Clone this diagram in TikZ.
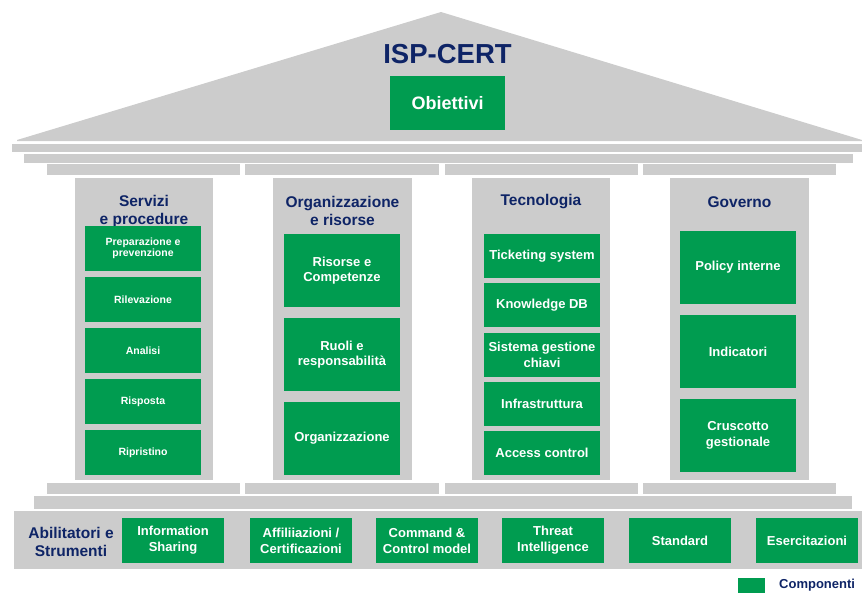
\documentclass[tikz,border=0pt]{standalone}
\usepackage{fontspec}
\setmainfont{Liberation Sans}
\definecolor{ispgreen}{RGB}{0,156,80}
\definecolor{ispgrey}{RGB}{204,204,204}
\definecolor{ispnavy}{RGB}{14,36,102}
\tikzset{
  gbox/.style={fill=ispgreen, draw=none, inner sep=0pt, align=center, text=white,
    font=\bfseries\fontsize{13}{15.7}\selectfont},
  smallbox/.style={gbox, minimum width=116pt, minimum height=45pt,
    font=\bfseries\fontsize{10.5}{11.5}\selectfont},
  midbox/.style={gbox, minimum width=116pt, minimum height=73pt},
  tecbox/.style={gbox, minimum width=116pt, minimum height=44pt},
  botbox/.style={gbox, minimum width=102pt, minimum height=45pt},
  coltitle/.style={text=ispnavy, align=center, inner sep=0pt,
    font=\bfseries\fontsize{15.5}{18}\selectfont},
  greyfill/.style={fill=ispgrey, draw=none}
}
\begin{document}
\begin{tikzpicture}[x=1pt,y=-1pt]
\useasboundingbox (0,0) rectangle (862,592);
% roof
\fill[ispgrey] (17,140) -- (441,12) -- (862,140) -- (862,141) -- (17,141) -- cycle;
% architraves
\fill[greyfill] (12,144) rectangle (862,152);
\fill[greyfill] (24,154) rectangle (853,163);
\foreach \a/\b in {47/240,245/439,445/638,643/836}{
  \fill[greyfill] (\a,164) rectangle (\b,175);
  \fill[greyfill] (\a,483) rectangle (\b,494);
}
% columns
\foreach \a/\b in {75/213,273/412,472/610,670/809}{
  \fill[greyfill] (\a,178) rectangle (\b,480);
}
% base
\fill[greyfill] (34,496) rectangle (852,509);
\fill[greyfill] (14,511) rectangle (862,569);

% roof texts
\node[text=ispnavy, inner sep=0pt, font=\bfseries\fontsize{27.5}{30}\selectfont] (title) at (447.5,54) {ISP-CERT};
\node[gbox, minimum width=115pt, minimum height=54pt, font=\bfseries\fontsize{18}{20}\selectfont] (obj) at (447.5,103) {Obiettivi};

% column titles
\node[coltitle] (t1) at (144,211) {Servizi\\e procedure};
\node[coltitle] (t2) at (342.5,211) {Organizzazione\\e risorse};
\node[coltitle] (t3) at (541,202) {Tecnologia};
\node[coltitle] (t4) at (739.5,202) {Governo};

% column 1
\node[smallbox] (s1) at (143,248.5) {Preparazione e\\prevenzione};
\node[smallbox] (s2) at (143,299.5) {Rilevazione};
\node[smallbox] (s3) at (143,350.5) {Analisi};
\node[smallbox] (s4) at (143,401.5) {Risposta};
\node[smallbox] (s5) at (143,452.5) {Ripristino};

% column 2
\node[midbox] (o1) at (342,270.5) {Risorse e\\Competenze};
\node[midbox] (o2) at (342,354.5) {Ruoli e\\responsabilità};
\node[midbox] (o3) at (342,438.5) {Organizzazione};

% column 3
\node[tecbox] (c1) at (542,256) {Ticketing system};
\node[tecbox] (c2) at (542,305.25) {Knowledge DB};
\node[tecbox] (c3) at (542,354.5) {Sistema gestione\\chiavi};
\node[tecbox] (c4) at (542,403.75) {Infrastruttura};
\node[tecbox] (c5) at (542,453) {Access control};

% column 4
\node[midbox] (g1) at (738,267.5) {Policy interne};
\node[midbox] (g2) at (738,351.5) {Indicatori};
\node[midbox] (g3) at (738,435.5) {Cruscotto\\gestionale};

% base row
\node[coltitle] (ab) at (71,542) {Abilitatori e\\Strumenti};
\node[botbox] (b1) at (173,540.5) {Information\\Sharing};
\node[botbox] (b2) at (301,540.5) {Affiliiazioni /\\Certificazioni};
\node[botbox] (b3) at (427,540.5) {Command \&\\Control model};
\node[botbox] (b4) at (553,540.5) {Threat\\Intelligence};
\node[botbox] (b5) at (680,540.5) {Standard};
\node[botbox] (b6) at (807,540.5) {Esercitazioni};

% legend
\node[fill=ispgreen, inner sep=0pt, minimum width=27pt, minimum height=16pt] (leg) at (751.5,586) {};
\node[text=ispnavy, inner sep=0pt, font=\bfseries\fontsize{13}{15}\selectfont, anchor=west] (legt) at (779,585) {Componenti};
\end{tikzpicture}
\end{document}
